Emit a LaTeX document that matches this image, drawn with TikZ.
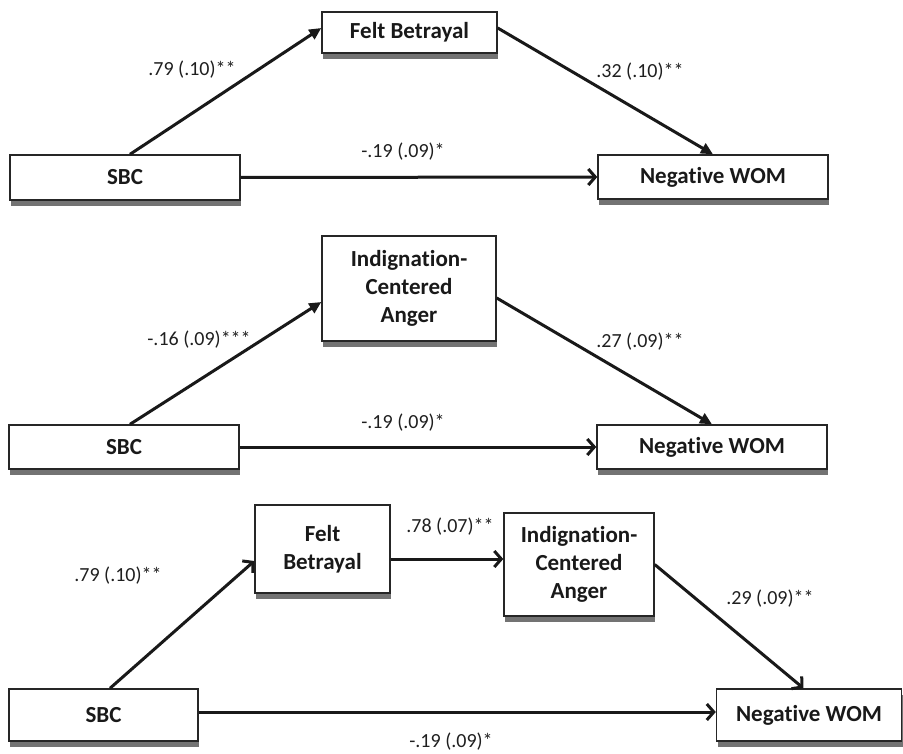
\documentclass[tikz,border=0pt]{standalone}
\usepackage{fontspec}
\setmainfont{Carlito}[Ligatures={NoCommon,NoRequired,NoContextual},Contextuals=NoAlternate]
\usetikzlibrary{arrows.meta,shadows,calc}
\begin{document}
\begin{tikzpicture}[x=1pt,y=-1pt,
 box/.style={draw=black!85, line width=1.4pt, fill=white, inner sep=0pt, align=center,
   font=\fontsize{23}{28}\selectfont\bfseries, text=black!90,
   drop shadow={shadow xshift=1pt, shadow yshift=-6pt, fill=black!55, opacity=1}},
 lab/.style={font=\fontsize{20}{24}\selectfont, text=black!88, inner sep=0pt},
 conn/.style={line width=3pt, draw=black!90},
 fa/.style={conn, -{Triangle[length=12pt,width=11pt]}},
 oa/.style={conn, -{Straight Barb[length=7pt,width=16pt]}},
]
\useasboundingbox (0,0) rectangle (903,754);

% ---------- Panel 1 ----------
\node[box, minimum width=175pt, minimum height=41pt] (fb1) at (409.5,32.5) {Felt Betrayal};
\node[box, minimum width=230pt, minimum height=45pt] (sbc1) at (125,177.5) {SBC};
\node[box, minimum width=230pt, minimum height=44pt] (wom1) at (713,177) {Nega\kern0pt tive WOM};
\draw[fa] ([xshift=5pt]sbc1.north) -- ([yshift=4.5pt]fb1.west);
\draw[fa] ([yshift=4.5pt]fb1.east) -- (wom1.north);
\draw[oa] (sbc1.east) -- (wom1.west);
\node[lab] (l11) at (192,70) {.79 (.10)**};
\node[lab] (l12) at (640,72) {.32 (.10)**};
\node[lab] (l13) at (403,152) {-.19 (.09)*};

% ---------- Panel 2 ----------
\node[box, minimum width=174pt, minimum height=105pt] (ind2) at (409,288.5) {Indigna\kern0pt tion-\\Centered\\Anger};
\node[box, minimum width=230pt, minimum height=44pt] (sbc2) at (124,447) {SBC};
\node[box, minimum width=230pt, minimum height=44pt] (wom2) at (712,447) {Nega\kern0pt tive WOM};
\draw[fa] ([xshift=6pt]sbc2.north) -- ([yshift=-13.5pt]ind2.west);
\draw[fa] ([yshift=-9.5pt]ind2.east) -- (wom2.north);
\draw[oa] (sbc2.east) -- (wom2.west);
\node[lab] (l21) at (199,340) {-.16 (.09)***};
\node[lab] (l22) at (640,342) {.27 (.09)**};
\node[lab] (l23) at (403,423) {-.19 (.09)*};

% ---------- Panel 3 ----------
\node[box, minimum width=135pt, minimum height=88pt] (fb3) at (322.5,549) {Felt\\Betrayal};
\node[box, minimum width=150pt, minimum height=103pt] (ind3) at (579,564.5) {Indigna\kern0pt tion-\\Centered\\Anger};
\node[box, minimum width=189pt, minimum height=52pt] (sbc3) at (103.5,715) {SBC};
\node[box, minimum width=185pt, minimum height=52pt] (wom3) at (809,715) {Nega\kern0pt tive WOM};
\draw[oa] ([xshift=6.5pt]sbc3.north) -- ([yshift=-12pt]fb3.west);
\draw[oa] ([yshift=-10pt]fb3.east) -- ([yshift=5.5pt]ind3.west);
\draw[oa] (ind3.east) -- ([xshift=-5.5pt]wom3.north);
\draw[oa] ([yshift=3pt]sbc3.east) -- ([yshift=3pt]wom3.west);
\node[lab] (l31) at (118,576) {.79 (.10)**};
\node[lab] (l32) at (450,527) {.78 (.07)**};
\node[lab] (l33) at (770,599) {.29 (.09)**};
\node[lab] (l34) at (451,742) {-.19 (.09)*};
\end{tikzpicture}
\end{document}
